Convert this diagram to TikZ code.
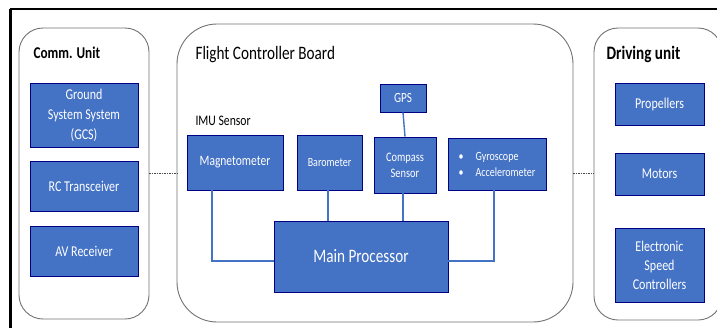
\documentclass[tikz,border=0pt]{standalone}
\usepackage{fontspec}
\setmainfont[FakeStretch=0.8]{Carlito}
\begin{document}
\begin{tikzpicture}[x=1pt,y=-1pt,
  blk/.style={draw=blue!40!black!80!blue, line width=0.8pt, fill={rgb,255:red,68;green,114;blue,196}, text=white, font=\fontsize{15}{20}\selectfont, align=center, inner sep=0pt},
  unit/.style={draw=black!55, line width=0.9pt, rounded corners=24pt},
  lnk/.style={draw={rgb,255:red,68;green,114;blue,196}, line width=1.4pt},
  dot/.style={draw=black!70, dashed, dash pattern=on 1.5pt off 1pt, line width=0.8pt}]
\useasboundingbox (0,0) rectangle (717,327);
\begin{scope}
\clip (0,0) rectangle (717,327);
\fill[white] (0,0) rectangle (717,327);
% outer frame
\draw[line width=2.2pt] (10,9) -- (730,9);
\draw[line width=2.2pt] (10.5,9) -- (10.5,340);
% units
\draw[unit] (19,28) rectangle (149,319);
\draw[unit, rounded corners=40pt] (177,24) rectangle (573,322);
\draw[unit] (594,28) rectangle (722,320);
\end{scope}
% labels
\node[anchor=west, font=\bfseries\fontsize{16.5}{20}\selectfont] (lc) at (30,53) {Comm. Unit};
\node[anchor=west, font=\fontsize{19}{22}\selectfont] (lf) at (192,55) {Flight Controller Board};
\node[anchor=west, font=\bfseries\fontsize{19}{22}\selectfont] (ld) at (603,54) {Driving unit};
\node[anchor=west, font=\fontsize{14.6}{17}\selectfont] (li) at (192,121) {IMU Sensor};
% comm blocks
\node[blk, minimum width=108pt, minimum height=64pt] (gcs) at (84,115) {Ground\\System System\\(GCS)};
\node[blk, minimum width=108pt, minimum height=50pt] (rc) at (84,186) {RC Transceiver};
\node[blk, minimum width=108pt, minimum height=50pt] (av) at (84,251) {AV Receiver};
% FCB blocks
\node[blk, minimum width=46pt, minimum height=28pt, font=\fontsize{14}{16}\selectfont] (gps) at (403,98) {GPS};
\node[blk, minimum width=96pt, minimum height=55pt, font=\fontsize{14.4}{16}\selectfont] (mag) at (235,162.5) {Magnetometer};
\node[blk, minimum width=65pt, minimum height=55pt, font=\fontsize{12.5}{15}\selectfont] (baro) at (329.5,162.5) {Barometer};
\node[blk, minimum width=62pt, minimum height=56pt, font=\fontsize{13}{16}\selectfont] (comp) at (405,165) {Compass\\Sensor};
\node[blk, minimum width=98pt, minimum height=52pt, align=left, font=\fontsize{12.5}{16}\selectfont] (gyro) at (497,164) {\textbullet\hspace{12pt}Gyroscope\\\textbullet\hspace{12pt}Accelerometer};
\node[blk, minimum width=174pt, minimum height=71pt, font=\fontsize{19}{22}\selectfont] (mp) at (361,256.5) {Main Processor};
% driving blocks
\node[blk, minimum width=89pt, minimum height=42pt] (prop) at (659.5,104) {Propellers};
\node[blk, minimum width=89pt, minimum height=42pt] (mot) at (659.5,174) {Motors};
\node[blk, minimum width=89pt, minimum height=74pt, font=\fontsize{15}{19}\selectfont] (esc) at (659.5,265) {Electronic\\Speed\\Controllers};
% connectors
\coordinate (mpl) at (274,261);
\coordinate (mpr) at (448,261);
\draw[lnk] (gps.south) -- (comp.north);
\draw[lnk] (mag.south -| 212,0) -- (212,261) -- (mpl);
\draw[lnk] (baro.south -| 328,0) -- (mp.north -| 328,0);
\draw[lnk] (comp.south -| 403,0) -- (mp.north -| 403,0);
\draw[lnk] (gyro.south -| 494,0) -- (494,261) -- (mpr);
% dotted links between units
\coordinate (c1) at (149,173);
\coordinate (c2) at (177,173);
\coordinate (c3) at (573,173);
\coordinate (c4) at (594,173);
\draw[dot] (c1) -- (c2);
\draw[dot] (c3) -- (c4);
\end{tikzpicture}
\end{document}
